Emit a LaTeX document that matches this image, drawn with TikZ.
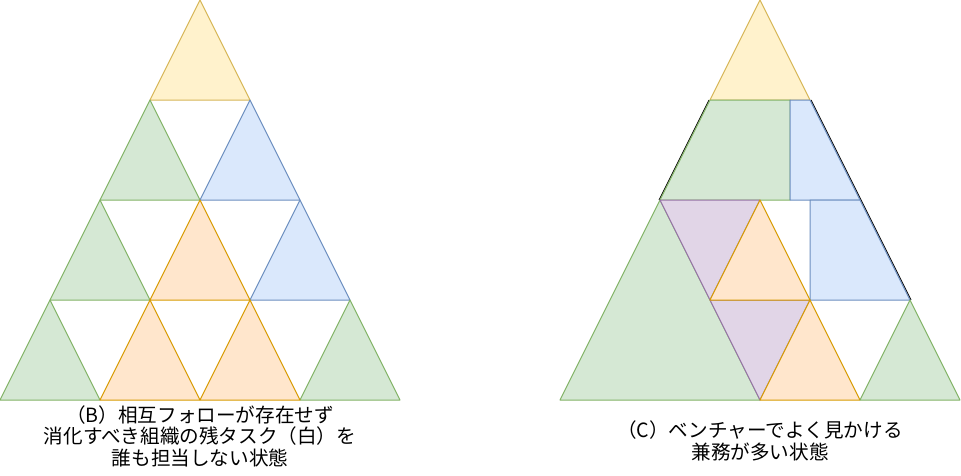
\documentclass[tikz,border=0pt]{standalone}
\usepackage{fontspec}
\newfontfamily\jpfont{Noto Sans CJK JP}
\definecolor{yfill}{HTML}{FFF2CC}\definecolor{ydraw}{HTML}{D6B656}
\definecolor{gfill}{HTML}{D5E8D4}\definecolor{gdraw}{HTML}{82B366}
\definecolor{bfill}{HTML}{DAE8FC}\definecolor{bdraw}{HTML}{6C8EBF}
\definecolor{ofill}{HTML}{FFE6CC}\definecolor{odraw}{HTML}{D79B00}
\definecolor{pfill}{HTML}{E1D5E7}\definecolor{pdraw}{HTML}{9673A6}
\tikzset{
  yel/.style={fill=yfill,draw=ydraw,line width=1pt,line join=round},
  grn/.style={fill=gfill,draw=gdraw,line width=1pt,line join=round},
  blu/.style={fill=bfill,draw=bdraw,line width=1pt,line join=round},
  org/.style={fill=ofill,draw=odraw,line width=1pt,line join=round},
  pur/.style={fill=pfill,draw=pdraw,line width=1pt,line join=round},
  edge/.style={draw=black,line width=0.9pt},
  caption/.style={align=center,inner sep=0pt,font=\jpfont\fontsize{19.6}{21.5}\selectfont}
}
\newcommand{\tri}[3]{\path[#1] (#2,#3) -- ++(-50,100) -- ++(100,0) -- cycle;}
\begin{document}
\begin{tikzpicture}[x=1pt,y=-1pt]
\useasboundingbox (0,0) rectangle (961,475);
% ---------- left figure (B) ----------
\tri{yel}{200}{0}
\tri{grn}{150}{100}
\tri{blu}{250}{100}
\tri{grn}{100}{200}
\tri{blu}{300}{200}
\tri{org}{200}{200}
\tri{grn}{50}{300}
\tri{grn}{350}{300}
\tri{org}{150}{300}
\tri{org}{250}{300}
\node[caption] (capB) at (200,436) {（B）相互フォローが存在せず\\消化すべき組織の残タスク（白）を\\誰も担当しない状態};
% ---------- right figure (C) ----------
\path[edge] (709,100) -- (659,200);
\path[edge] (811,100) -- (911,300);
\tri{yel}{760}{0}
\path[grn] (710,100) -- (790,100) -- (790,200) -- (660,200) -- cycle;
\path[blu] (790,100) -- (810,100) -- (860,200) -- (790,200) -- cycle;
\path[blu] (810,200) -- (860,200) -- (910,300) -- (810,300) -- cycle;
\path[grn] (560,400) -- (660,200) -- (760,400) -- cycle;
\path[pur] (660,200) -- (760,200) -- (710,300) -- (810,300) -- (760,400) -- cycle;
\path[org] (760,200) -- (710,300) -- (810,300) -- cycle;
\path[org] (810,300) -- (760,400) -- (860,400) -- cycle;
\path[grn] (860,400) -- (910,300) -- (960,400) -- cycle;
\node[caption] (capC) at (760,441) {（C）ベンチャーでよく見かける\\兼務が多い状態};
\end{tikzpicture}
\end{document}
